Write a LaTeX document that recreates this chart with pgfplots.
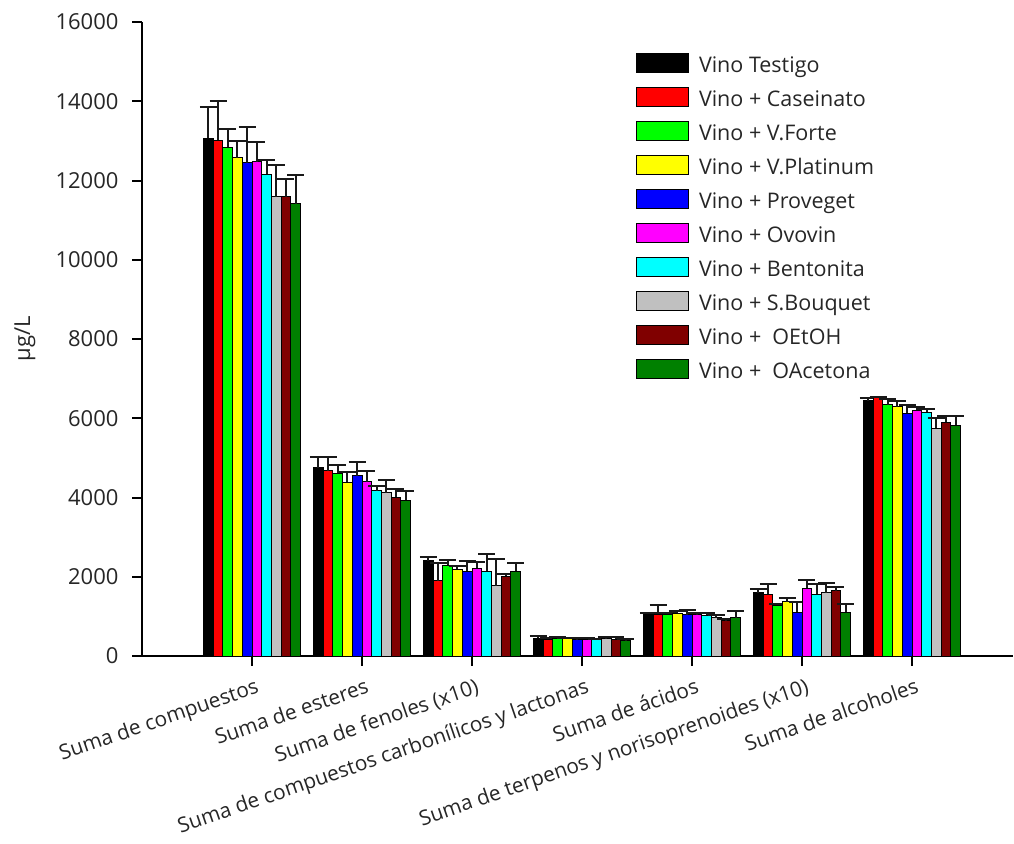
\documentclass[border=0pt]{standalone}
\usepackage{fontspec}
\setmainfont{Open Sans}
\usepackage{pgfplots}
\pgfplotsset{compat=1.18}

\definecolor{cGray}{RGB}{192,192,192}
\definecolor{cDarkRed}{RGB}{128,0,0}
\definecolor{cDarkGreen}{RGB}{0,128,0}
\definecolor{cGreen}{RGB}{0,255,0}
\definecolor{cYellow}{RGB}{255,255,0}
\definecolor{cCyan}{RGB}{0,255,255}
\definecolor{cMagenta}{RGB}{255,0,255}

% g = group index, v = mean (ug/L), e = upper error
\pgfplotstableread{
g v e
0 13065 795
1 4745 285
2 2405 95
3 450 50
4 1060 35
5 1600 100
6 6445 75
}\tTestigo
\pgfplotstableread{
g v e
0 13020 995
1 4680 350
2 1895 445
3 420 40
4 1050 230
5 1555 255
6 6520 20
}\tCaseinato
\pgfplotstableread{
g v e
0 12840 460
1 4610 220
2 2295 125
3 440 30
4 1060 30
5 1285 35
6 6345 135
}\tForte
\pgfplotstableread{
g v e
0 12575 420
1 4385 250
2 2190 90
3 430 30
4 1085 60
5 1370 85
6 6285 145
}\tPlatinum
\pgfplotstableread{
g v e
0 12450 910
1 4545 350
2 2145 245
3 410 40
4 1035 135
5 1110 245
6 6125 210
}\tProveget
\pgfplotstableread{
g v e
0 12470 490
1 4400 275
2 2220 160
3 420 30
4 1045 40
5 1715 200
6 6200 75
}\tOvovin
\pgfplotstableread{
g v e
0 12160 350
1 4165 135
2 2135 440
3 410 30
4 1025 60
5 1555 270
6 6150 85
}\tBentonita
\pgfplotstableread{
g v e
0 11590 810
1 4120 320
2 1775 680
3 430 50
4 960 85
5 1600 235
6 5745 255
}\tBouquet
\pgfplotstableread{
g v e
0 11590 440
1 4005 210
2 2010 65
3 420 50
4 890 35
5 1650 100
6 5900 165
}\tOEtOH
\pgfplotstableread{
g v e
0 11415 725
1 3930 235
2 2135 220
3 380 40
4 960 185
5 1110 210
6 5820 245
}\tOAcetona

\pgfplotsset{
  vbar/.style={fill=#1, draw=black, line width=0.5pt,
    error bars/.cd, y dir=plus, y explicit,
    error bar style={line width=1pt, black!90},
    error mark options={rotate=90, line width=1pt, mark size=4.25pt, black!90}},
}

\begin{document}
\begin{tikzpicture}
\useasboundingbox (0,0) rectangle (507pt,421.5pt);
\begin{axis}[
  at={(71pt,93.5pt)}, anchor=south west,
  scale only axis, width=435.5pt, height=317pt,
  xmin=-1, xmax=6.918, ymin=0, ymax=16000,
  axis x line*=bottom, axis y line*=left,
  axis line style={line width=1pt, -},
  ybar=0pt, bar width=4.85pt,
  xtick={0,...,6},
  xticklabels={Suma de compuestos, Suma de esteres, Suma de fenoles (x10),
    Suma de compuestos carbonílicos y lactonas, Suma de ácidos,
    Suma de terpenos y norisoprenoides (x10), Suma de alcoholes},
  ytick={0,2000,...,16000},
  tick align=outside, major tick length=4.75pt,
  tick style={line width=1pt, black},
  /pgf/number format/assume math mode=true,
  /pgf/number format/set thousands separator={},
  scaled y ticks=false,
  yticklabel style={font=\fontsize{11}{13}\selectfont, text=black!85, xshift=-3.5pt},
  xticklabel style={font=\fontsize{10.4}{12}\selectfont, text=black!85,
    rotate=19, anchor=north east, inner sep=1pt, xshift=0.5pt, yshift=-5pt},
  ylabel={µg/L},
  ylabel style={at={(axis description cs:-0.1343,0.5)}, anchor=center,
    font=\fontsize{11}{13}\selectfont, text=black!85},
  legend cell align=left,
  legend image code/.code={\draw[#1] (0pt,-3.4pt) rectangle (26pt,5.9pt);},
  legend style={at={(axis cs:3.4909,15213)}, anchor=north west, draw=none,
    fill=none, inner sep=0pt, outer sep=0pt, row sep=4.85pt, column sep=5pt,
    nodes={inner sep=0pt, text height=9.4pt, text depth=2.6pt,
      font=\fontsize{10.75}{13}\selectfont, text=black!85}},
]
\addplot[vbar=black] table[x=g, y=v, y error=e] {\tTestigo};
\addlegendentry{Vino Testigo}
\addplot[vbar=red] table[x=g, y=v, y error=e] {\tCaseinato};
\addlegendentry{Vino + Caseinato}
\addplot[vbar=cGreen] table[x=g, y=v, y error=e] {\tForte};
\addlegendentry{Vino + V.Forte}
\addplot[vbar=cYellow] table[x=g, y=v, y error=e] {\tPlatinum};
\addlegendentry{Vino + V.Platinum}
\addplot[vbar=blue] table[x=g, y=v, y error=e] {\tProveget};
\addlegendentry{Vino + Proveget}
\addplot[vbar=cMagenta] table[x=g, y=v, y error=e] {\tOvovin};
\addlegendentry{Vino + Ovovin}
\addplot[vbar=cCyan] table[x=g, y=v, y error=e] {\tBentonita};
\addlegendentry{Vino + Bentonita}
\addplot[vbar=cGray] table[x=g, y=v, y error=e] {\tBouquet};
\addlegendentry{Vino + S.Bouquet}
\addplot[vbar=cDarkRed] table[x=g, y=v, y error=e] {\tOEtOH};
\addlegendentry{Vino +\ \ OEtOH}
\addplot[vbar=cDarkGreen] table[x=g, y=v, y error=e] {\tOAcetona};
\addlegendentry{Vino +\ \ OAcetona}
\end{axis}
\end{tikzpicture}
\end{document}
